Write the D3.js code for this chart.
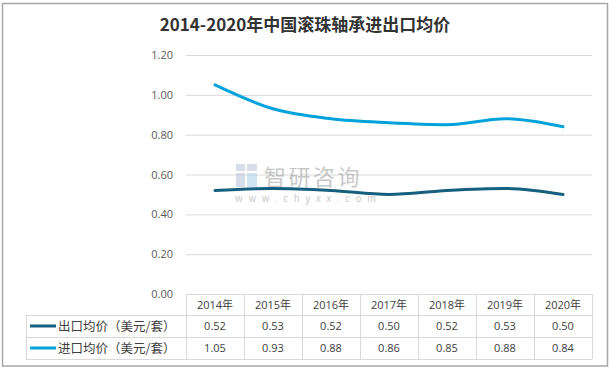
<!DOCTYPE html>
<html>
<head>
<meta charset="utf-8">
<script src="https://cdn.jsdelivr.net/npm/d3@7"></script>
<style>
  body { margin: 0; background: #fff; }
  svg { display: block; font-family: "Noto Sans CJK SC", "Noto Sans", sans-serif; }
</style>
</head>
<body>
<div id="chart"></div>
<script>
var years = ["2014年", "2015年", "2016年", "2017年", "2018年", "2019年", "2020年"];
var exportPrice = [0.52, 0.53, 0.52, 0.50, 0.52, 0.53, 0.50];
var importPrice = [1.05, 0.93, 0.88, 0.86, 0.85, 0.88, 0.84];
var seriesNames = ["出口均价（美元/套）", "进口均价（美元/套）"];
var yTicks = [0, 0.2, 0.4, 0.6, 0.8, 1.0, 1.2];

var svgWidth = 611, svgHeight = 370;
var colors = ["#175f7e", "#00a2db"];
var numFont = "'Open Sans', 'Noto Sans CJK SC', sans-serif";

var plot = { left: 186, right: 592, top: 55, bottom: 294 };
var rowH = [21, 22, 22];
var labelLeft = 26;

var svg = d3.select("#chart").append("svg")
  .attr("width", svgWidth)
  .attr("height", svgHeight);

// outer frame
svg.append("rect")
  .attr("x", 2.5).attr("y", 3.5)
  .attr("width", 605).attr("height", 362.5)
  .attr("fill", "none")
  .attr("stroke", "#a6a6a6")
  .attr("stroke-width", 1.5);

// title
svg.append("text")
  .attr("x", 305).attr("y", 31)
  .attr("text-anchor", "middle")
  .attr("font-size", 17)
  .attr("font-weight", "bold")
  .attr("fill", "#333")
  .text("2014-2020年中国滚珠轴承进出口均价");

var x = d3.scaleBand().domain(years).range([plot.left, plot.right]);
var y = d3.scaleLinear().domain([0, 1.2]).range([plot.bottom, plot.top]);

// gridlines
svg.append("g").selectAll("line")
  .data(yTicks.slice(1))
  .enter().append("line")
  .attr("x1", plot.left).attr("x2", plot.right)
  .attr("y1", d => y(d) + 0.5).attr("y2", d => y(d) + 0.5)
  .attr("stroke", "#d9d9d9");

// y axis labels
var yAxis = svg.append("g")
  .attr("transform", `translate(${plot.left - 10}, 0)`)
  .call(d3.axisLeft(y).tickValues(yTicks).tickFormat(d3.format(".2f")).tickSize(0));
yAxis.select(".domain").remove();
yAxis.selectAll("text")
  .attr("font-family", numFont)
  .attr("font-size", 11)
  .attr("fill", "#595959");

// watermark
var wm = svg.append("g").attr("opacity", 0.55);
wm.append("rect").attr("x", 236).attr("y", 164).attr("width", 9).attr("height", 7).attr("fill", "#b8c4dc");
wm.append("rect").attr("x", 247).attr("y", 164).attr("width", 10).attr("height", 7).attr("fill", "#b8c4dc");
wm.append("rect").attr("x", 236).attr("y", 173).attr("width", 9).attr("height", 14).attr("fill", "#b8c4dc");
wm.append("rect").attr("x", 247).attr("y", 173).attr("width", 10).attr("height", 14).attr("fill", "#a8d0ea");
wm.append("text")
  .attr("x", 264).attr("y", 185)
  .attr("font-size", 22)
  .attr("fill", "#9a9a9a")
  .attr("letter-spacing", 2.5)
  .text("智研咨询");
wm.append("text")
  .attr("x", 235).attr("y", 202)
  .attr("font-size", 9.5)
  .attr("fill", "#9a9a9a")
  .attr("letter-spacing", 5.8)
  .text("www.chyxx.com");

// lines
var line = d3.line()
  .x((d, i) => x(years[i]) + x.bandwidth() / 2)
  .y(d => y(d))
  .curve(d3.curveMonotoneX);

[exportPrice, importPrice].forEach(function(values, i) {
  svg.append("path")
    .datum(values)
    .attr("d", line)
    .attr("fill", "none")
    .attr("stroke", colors[i])
    .attr("stroke-width", 3)
    .attr("stroke-linecap", "round");
});

// data table
var table = svg.append("g").attr("stroke", "#d9d9d9").attr("fill", "none");
var rowY = [plot.bottom, plot.bottom + rowH[0], plot.bottom + rowH[0] + rowH[1], plot.bottom + rowH[0] + rowH[1] + rowH[2]];

// horizontal lines
table.selectAll("line.h")
  .data(rowY)
  .enter().append("line")
  .attr("x1", (d, i) => i === 0 ? plot.left : labelLeft)
  .attr("x2", plot.right)
  .attr("y1", d => d + 0.5).attr("y2", d => d + 0.5);

// vertical lines
var colX = years.map(d => x(d)).concat([plot.right]);
table.selectAll("line.v")
  .data(colX)
  .enter().append("line")
  .attr("x1", d => d + 0.5).attr("x2", d => d + 0.5)
  .attr("y1", plot.bottom).attr("y2", rowY[3]);
table.append("line")
  .attr("x1", labelLeft + 0.5).attr("x2", labelLeft + 0.5)
  .attr("y1", rowY[1]).attr("y2", rowY[3]);

// header
svg.append("g").selectAll("text")
  .data(years)
  .enter().append("text")
  .attr("x", d => x(d) + x.bandwidth() / 2)
  .attr("y", (rowY[0] + rowY[1]) / 2 + 4)
  .attr("text-anchor", "middle")
  .attr("font-family", numFont)
  .attr("font-size", 11)
  .attr("fill", "#404040")
  .text(d => d);

// rows
[exportPrice, importPrice].forEach(function(values, r) {
  var cy = (rowY[r + 1] + rowY[r + 2]) / 2;
  var g = svg.append("g");
  g.append("line")
    .attr("x1", labelLeft + 4).attr("x2", labelLeft + 30)
    .attr("y1", cy).attr("y2", cy)
    .attr("stroke", colors[r])
    .attr("stroke-width", 3);
  g.append("text")
    .attr("x", labelLeft + 32)
    .attr("y", cy + 4.5)
    .attr("font-size", 12.5)
    .attr("fill", "#404040")
    .text(seriesNames[r]);
  g.selectAll("text.v")
    .data(values)
    .enter().append("text")
    .attr("x", (d, i) => x(years[i]) + x.bandwidth() / 2)
    .attr("y", cy + 4)
    .attr("text-anchor", "middle")
    .attr("font-family", numFont)
    .attr("font-size", 11)
    .attr("fill", "#404040")
    .text(d => d.toFixed(2));
});
</script>
</body>
</html>
